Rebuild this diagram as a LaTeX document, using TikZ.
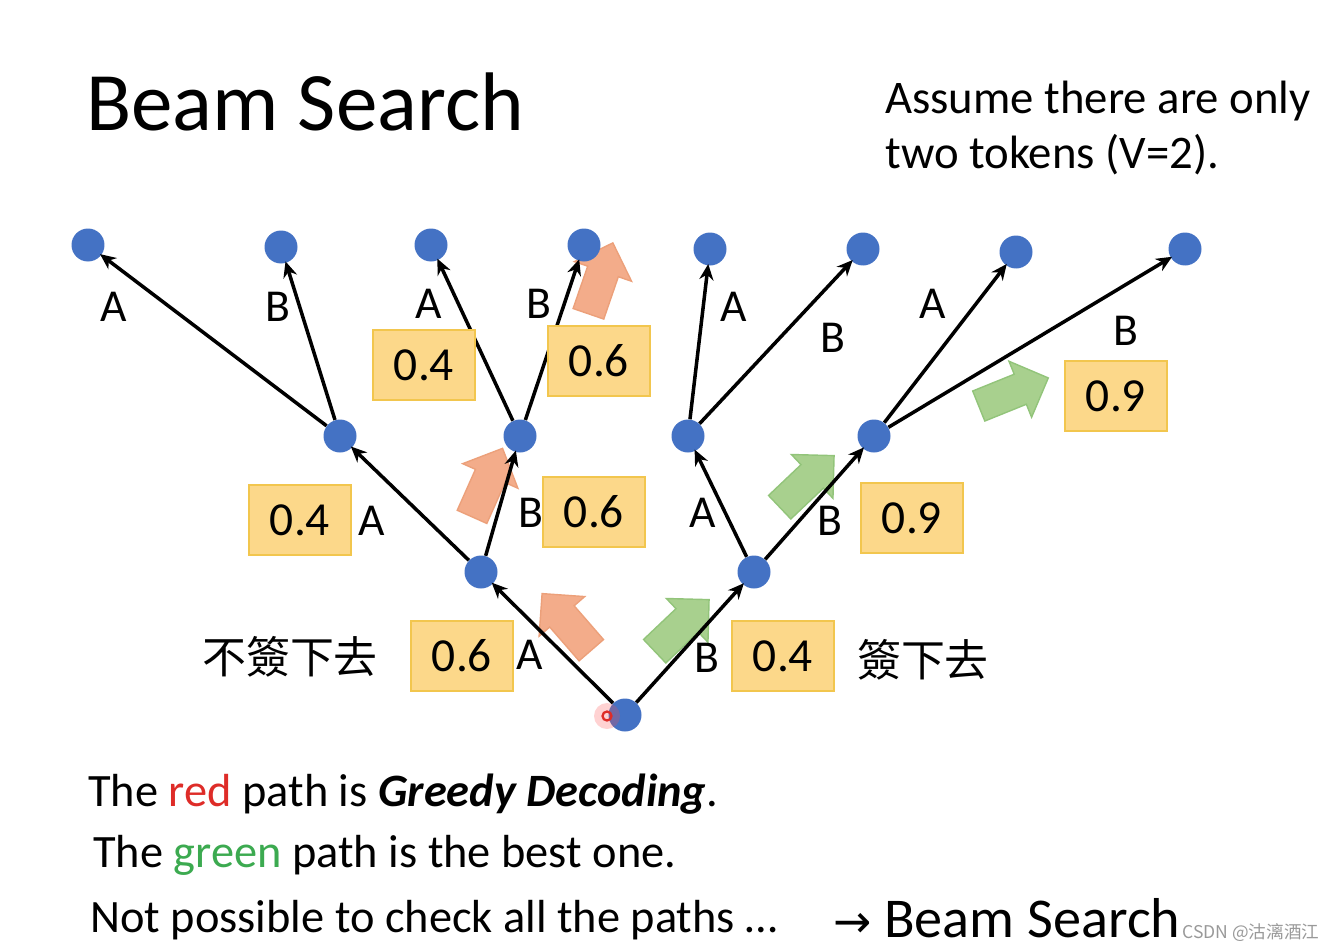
\documentclass[tikz,border=0pt]{standalone}
\usepackage{fontspec}
\setmainfont{Carlito}
\newfontfamily\cjk{Noto Sans CJK TC}
\newfontfamily\cjksc{Noto Sans CJK SC}
\newfontfamily\dejavu{DejaVu Sans}
\usetikzlibrary{arrows.meta,shapes.arrows}
\definecolor{nodeblue}{RGB}{68,114,196}
\definecolor{boxfill}{RGB}{252,216,138}
\definecolor{boxline}{RGB}{242,198,78}
\definecolor{orfill}{RGB}{243,172,138}
\definecolor{orline}{RGB}{236,160,122}
\definecolor{grfill}{RGB}{168,208,142}
\definecolor{grline}{RGB}{146,196,122}
\definecolor{redtxt}{RGB}{222,44,40}
\definecolor{greentxt}{RGB}{60,170,80}
\tikzset{
  tnode/.style={circle,fill=nodeblue,inner sep=0pt,minimum size=0.66cm},
  edge/.style={line width=2pt,-{Stealth[length=9pt,width=8pt]},shorten >=-1pt},
  lab/.style={font=\fontsize{26}{30}\selectfont,inner sep=0pt},
  prob/.style={draw=boxline,fill=boxfill,line width=1pt,minimum width=2.04cm,minimum height=1.4cm,inner sep=0pt,font=\fontsize{27}{30}\selectfont},
  fat/.style={single arrow,inner sep=0.31cm,single arrow head extend=0.28cm,single arrow head indent=0pt,minimum height=1.5cm,line width=0.8pt},
  orarrow/.style={fat,fill=orfill,draw=orline},
  grarrow/.style={fat,fill=grfill,draw=grline},
  body/.style={font=\fontsize{26.4}{30}\selectfont,inner sep=0pt,anchor=base west},
}
\begin{document}
\begin{tikzpicture}[x=0.02cm,y=-0.02cm]
\useasboundingbox (0,0) rectangle (1334,950);
% title
\node[font=\fontsize{47.3}{50}\selectfont,inner sep=0pt,anchor=base west] (title) at (86,130) {Beam Search};
\node[font=\fontsize{26.6}{30}\selectfont,inner sep=0pt,anchor=base west] (assume1) at (885,113) {Assume there are only};
\node[font=\fontsize{26.6}{30}\selectfont,inner sep=0pt,anchor=base west] (assume2) at (885,168) {two tokens (V=2).};
% fat arrows (behind)
\node[orarrow,rotate=131] (oa1) at (572,628) {};
\node[orarrow,rotate=66,minimum height=1.5cm] (oa2) at (484,490) {};
\node[orarrow,rotate=71,minimum height=1.5cm] (oa3) at (598,286) {};
\node[grarrow,rotate=43.5] (ga1) at (676,631) {};
\node[grarrow,rotate=43.5] (ga2) at (801,487) {};
\node[grarrow,rotate=22] (ga3) at (1006,395) {};
% tree nodes
\node[tnode] (root) at (625,715) {};
\node[tnode] (l1a) at (481,572) {};
\node[tnode] (l1b) at (754,572) {};
\node[tnode] (l2a) at (340,436) {};
\node[tnode] (l2b) at (520,436) {};
\node[tnode] (l2c) at (688,436) {};
\node[tnode] (l2d) at (874,436) {};
\node[tnode] (l3a) at (88,245) {};
\node[tnode] (l3b) at (281,247) {};
\node[tnode] (l3c) at (431,245) {};
\node[tnode] (l3d) at (584,245) {};
\node[tnode] (l3e) at (710,249) {};
\node[tnode] (l3f) at (863,249) {};
\node[tnode] (l3g) at (1016,252) {};
\node[tnode] (l3h) at (1185,249) {};
% cursor mark
\fill[red!70,opacity=0.25] (607,716) circle (13);
\node[circle,draw=redtxt,line width=1.3pt,inner sep=0pt,minimum size=0.18cm] (cursor) at (607,716) {};
% edges
\draw[edge] (root) -- (l1a);
\draw[edge] (root) -- (l1b);
\draw[edge] (l1a) -- (l2a);
\draw[edge] (l1a) -- (l2b);
\draw[edge] (l1b) -- (l2c);
\draw[edge] (l1b) -- (l2d);
\draw[edge] (l2a) -- (l3a);
\draw[edge] (l2a) -- (l3b);
\draw[edge] (l2b) -- (l3c);
\draw[edge] (l2b) -- (l3d);
\draw[edge] (l2c) -- (l3e);
\draw[edge] (l2c) -- (l3f);
\draw[edge] (l2d) -- (l3g);
\draw[edge] (l2d) -- (l3h);
% probability boxes
\node[prob] (p1) at (462,656) {0.6};
\node[prob] (p2) at (783,656) {0.4};
\node[prob] (p3) at (300,520) {0.4};
\node[prob] (p4) at (594,512) {0.6};
\node[prob] (p5) at (912,518) {0.9};
\node[prob] (p6) at (424,365) {0.4};
\node[prob] (p7) at (599,361) {0.6};
\node[prob] (p8) at (1116,396) {0.9};
% edge labels
\node[lab] (e1) at (530,655) {A};
\node[lab] (e2) at (707,658) {B};
\node[lab] (e3) at (372,521) {A};
\node[lab] (e4) at (531,513) {B};
\node[lab] (e5) at (703,513) {A};
\node[lab] (e6) at (830,521) {B};
\node[lab] (e7) at (114,307) {A};
\node[lab] (e8) at (278,307) {B};
\node[lab] (e9) at (429,304) {A};
\node[lab] (e10) at (539,304) {B};
\node[lab] (e11) at (734,307) {A};
\node[lab] (e12) at (833,338) {B};
\node[lab] (e13) at (933,304) {A};
\node[lab] (e14) at (1126,331) {B};
% chinese
\node[font=\cjk\fontsize{25}{28}\selectfont,inner sep=0pt] (nosign) at (290,657) {不簽下去};
\node[font=\cjk\fontsize{25}{28}\selectfont,inner sep=0pt] (sign) at (923,660) {簽下去};
% bottom text
\node[body] (t1) at (88,806) {The \textcolor{redtxt}{red} path is \textbf{\textit{Greedy Decoding}}.};
\node[body] (t2) at (93,867) {The \textcolor{greentxt}{green} path is the best one.};
\node[body] (t3) at (90,932) {Not possible to check all the paths \dots};
\node[font=\fontsize{32}{35}\selectfont,inner sep=0pt,anchor=base west] (t4) at (833,937) {{\dejavu\fontsize{26}{30}\selectfont →} Beam Search};
\node[font=\cjksc\fontsize{10}{12}\selectfont,text=black!40,inner sep=0pt,anchor=base west] (wm) at (1182,938) {CSDN @沽漓酒江};
\end{tikzpicture}
\end{document}
